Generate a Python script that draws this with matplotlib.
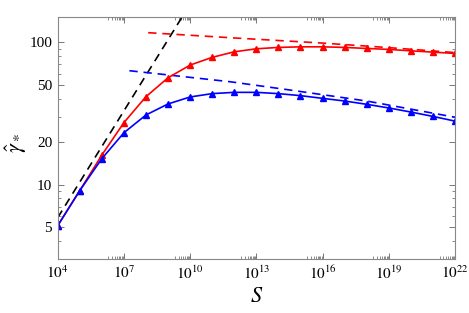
import matplotlib
matplotlib.use("Agg")
import matplotlib.pyplot as plt
import numpy as np

plt.rcParams['font.family'] = ['Liberation Serif', 'DejaVu Serif']
plt.rcParams['mathtext.fontset'] = 'stix'

# data
S_exp = [4, 5, 6, 7, 8, 9, 10, 11, 12, 13, 14, 15, 16, 17, 18, 19, 20, 21, 22]
blue_vals = [5.14, 9.07, 15.2, 23.1, 30.8, 36.8, 41.2, 43.5, 44.4, 44.4, 43.5,
             42.1, 40.3, 38.6, 36.6, 34.5, 32.3, 30.1, 27.9]
red_vals = [5.14, 9.07, 16.1, 27.2, 41.4, 56.2, 69.0, 78.2, 85.5, 89.8, 91.8,
            92.7, 92.7, 91.8, 90.3, 88.9, 86.9, 85.1, 83.3]

black_dash_exp = [4, 10]
black_dash_vals = [5.85, 185.0]
red_dash_exp = [8.1, 12, 16, 19, 22]
red_dash_vals = [116.5, 107.0, 98.5, 91.5, 84.5]
blue_dash_exp = [7.25, 11.82, 14.53, 18.0, 22.0]
blue_dash_vals = [63.0, 52.7, 46.1, 38.6, 29.7]

xtick_exp = [4, 7, 10, 13, 16, 19, 22]
ytick_vals = [5, 10, 20, 50, 100]

fig = plt.figure(figsize=(4.69, 3.13), dpi=100)
ax = fig.add_axes([0.123, 0.1725, 0.847, 0.773])

S = [10.0 ** e for e in S_exp]
dash = (0, (5, 3.5))
ax.plot([10.0 ** e for e in black_dash_exp], black_dash_vals, color='black',
        lw=1.2, linestyle=dash)
ax.plot([10.0 ** e for e in red_dash_exp], red_dash_vals, color='#ff0000',
        lw=1.2, linestyle=dash)
ax.plot([10.0 ** e for e in blue_dash_exp], blue_dash_vals, color='#0000ff',
        lw=1.2, linestyle=dash)
ax.plot(S, red_vals, color='#ff0000', lw=1.2, marker='^', ms=4.5)
ax.plot(S, blue_vals, color='#0000ff', lw=1.2, marker='^', ms=4.5)

ax.set_xscale('log')
ax.set_yscale('log')
ax.set_xlim(1e4, 1e22)
ax.set_ylim(3, 150)

ax.set_xticks([10.0 ** e for e in xtick_exp])
ax.set_xticklabels([r'$10^{%d}$' % e for e in xtick_exp])
xminor = []
for e in xtick_exp[1:]:
    for m in range(2, 10):
        xminor.append(m * 10.0 ** (e - 1))
ax.set_xticks(xminor, minor=True)
ax.set_yticks(ytick_vals)
ax.set_yticklabels([str(v) for v in ytick_vals])
ax.set_yticks([3, 4, 6, 7, 8, 9, 30, 40, 60, 70, 80, 90], minor=True)
ax.yaxis.set_minor_formatter(matplotlib.ticker.NullFormatter())
ax.xaxis.set_minor_formatter(matplotlib.ticker.NullFormatter())

ax.tick_params(which='both', direction='in', top=True, right=True,
               color='#777777', labelsize=11)
ax.tick_params(which='major', length=4, width=0.7, pad=4)
ax.tick_params(which='minor', length=2, width=0.6)
for sp in ax.spines.values():
    sp.set_color('#888888')
    sp.set_linewidth(0.8)

ax.set_xlabel(r'$S$', fontsize=16, labelpad=4)
ax.set_ylabel(r'$\hat{\gamma}_*$', fontsize=16, va='center')
ax.yaxis.set_label_coords(-0.105, 0.48)

fig.savefig('out.png', dpi=100)
